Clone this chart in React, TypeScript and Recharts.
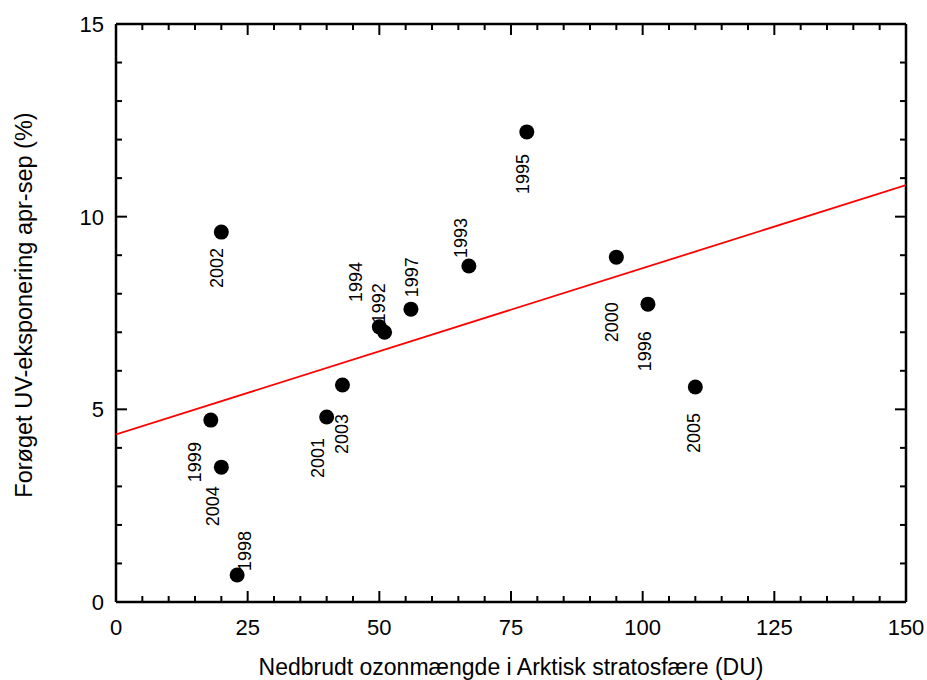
import { ScatterChart, Scatter, XAxis, YAxis } from 'recharts';

const FONT = '"Liberation Sans", Arial, sans-serif';

// år, nedbrudt ozon (DU), forøget UV (%)
const years = ['2002', '1999', '2004', '1998', '2001', '2003', '1994', '1992', '1997', '1993', '1995', '2000', '1996', '2005'];
const ozone = [20, 18, 20, 23, 40, 43, 50, 51, 56, 67, 78, 95, 101, 110];
const uvIncrease = [9.6, 4.72, 3.5, 0.7, 4.8, 5.63, 7.14, 7.0, 7.6, 8.72, 12.2, 8.95, 7.73, 5.58];

// regression line end points
const fitX = [0, 150];
const fitY = [4.35, 10.82];

const xTicks = [0, 5, 10, 15, 20, 25, 30, 35, 40, 45, 50, 55, 60, 65, 70, 75, 80, 85, 90, 95, 100, 105, 110, 115, 120, 125, 130, 135, 140, 145, 150];
const yTicks = [0, 1, 2, 3, 4, 5, 6, 7, 8, 9, 10, 11, 12, 13, 14, 15];

// where each year label sits relative to its dot (px)
const labelOffsets: Record<string, [number, number]> = {
  '2002': [-4, 36],
  '1999': [-16, 42],
  '2004': [-8, 39],
  '1998': [8, -24],
  '2001': [-9, 41],
  '2003': [0, 49],
  '1994': [-23, -45],
  '1992': [-6, -29],
  '1997': [1, -32],
  '1993': [-8, -28],
  '1995': [-4, 42],
  '2000': [-4, 65],
  '1996': [-3, 47],
  '2005': [-1, 46],
};

const points = years.map((year, i) => ({ year, x: ozone[i], y: uvIncrease[i] }));
const fitLine = fitX.map((x, i) => ({ x, y: fitY[i] }));

const MAJOR = 11;
const MINOR = 6;
// tickSize + tickMargin: distance from the axis line to the tick anchor recharts hands us
const GAP = 2;

const BottomTick = ({ x, y, payload }: any) => {
  const major = payload.value % 25 === 0;
  const ay = y - GAP;
  return (
    <g>
      <line x1={x} x2={x} y1={ay} y2={ay - (major ? MAJOR : MINOR)} stroke="#000" strokeWidth={2} />
      {major && (
        <text x={x} y={ay + 33} textAnchor="middle" fontSize={22} fontFamily={FONT} fill="#000">
          {payload.value}
        </text>
      )}
    </g>
  );
};

const TopTick = ({ x, y, payload }: any) => {
  const major = payload.value % 25 === 0;
  const ay = y + GAP;
  return <line x1={x} x2={x} y1={ay} y2={ay + (major ? MAJOR : MINOR)} stroke="#000" strokeWidth={2} />;
};

const LeftTick = ({ x, y, payload }: any) => {
  const major = payload.value % 5 === 0;
  const ax = x + GAP;
  return (
    <g>
      <line x1={ax} x2={ax + (major ? MAJOR : MINOR)} y1={y} y2={y} stroke="#000" strokeWidth={2} />
      {major && (
        <text x={ax - 12} y={y + 8} textAnchor="end" fontSize={22} fontFamily={FONT} fill="#000">
          {payload.value}
        </text>
      )}
    </g>
  );
};

const RightTick = ({ x, y, payload }: any) => {
  const major = payload.value % 5 === 0;
  const ax = x - GAP;
  return <line x1={ax} x2={ax - (major ? MAJOR : MINOR)} y1={y} y2={y} stroke="#000" strokeWidth={2} />;
};

const YearDot = ({ cx, cy, payload }: any) => {
  const [dx, dy] = labelOffsets[payload.year] || [0, 40];
  const tx = cx + dx;
  const ty = cy + dy;
  return (
    <g>
      <circle cx={cx} cy={cy} r={7.5} fill="#000" />
      <text
        x={tx}
        y={ty}
        transform={`rotate(-90 ${tx} ${ty})`}
        textAnchor="middle"
        dominantBaseline="central"
        fontSize={18}
        fontFamily={FONT}
        fill="#000"
      >
        {payload.year}
      </text>
    </g>
  );
};

const NoDot = () => <g />;

const XTitle = ({ viewBox }: any) => (
  <text x={viewBox.x + viewBox.width / 2} y={viewBox.y + 73} textAnchor="middle" fontSize={23} fontFamily={FONT} fill="#000">
    Nedbrudt ozonmængde i Arktisk stratosfære (DU)
  </text>
);

const YTitle = ({ viewBox }: any) => {
  const cx = 32;
  const cy = viewBox.y + viewBox.height / 2 - 8;
  return (
    <text x={cx} y={cy} transform={`rotate(-90 ${cx} ${cy})`} textAnchor="middle" fontSize={23.5} fontFamily={FONT} fill="#000">
      Forøget UV-eksponering apr-sep (%)
    </text>
  );
};

const axisCommon = {
  type: 'number' as const,
  interval: 0 as const,
  tickSize: 1,
  tickMargin: 1,
  tickLine: false,
  axisLine: { stroke: '#000', strokeWidth: 2.5 },
  allowDataOverflow: true,
};

export default function App() {
  return (
    <div style={{ position: 'absolute', left: 0, top: 0, fontFamily: FONT }}>
      <ScatterChart width={927} height={680} margin={{ top: 23, right: 20, bottom: 0, left: 0 }}>
        <XAxis
          {...axisCommon}
          dataKey="x"
          domain={[0, 150]}
          ticks={xTicks}
          height={78}
          tick={<BottomTick />}
          label={<XTitle />}
        />
        <XAxis
          {...axisCommon}
          xAxisId="top"
          dataKey="x"
          orientation="top"
          domain={[0, 150]}
          ticks={xTicks}
          height={1}
          tick={<TopTick />}
        />
        <YAxis
          {...axisCommon}
          dataKey="y"
          domain={[0, 15]}
          ticks={yTicks}
          width={116}
          tick={<LeftTick />}
          label={<YTitle />}
        />
        <YAxis
          {...axisCommon}
          yAxisId="right"
          dataKey="y"
          orientation="right"
          domain={[0, 15]}
          ticks={yTicks}
          width={1}
          tick={<RightTick />}
        />
        <Scatter
          data={fitLine}
          xAxisId="top"
          yAxisId="right"
          line={{ stroke: '#ff0000', strokeWidth: 1.8 }}
          shape={<NoDot />}
          isAnimationActive={false}
        />
        <Scatter data={points} shape={<YearDot />} isAnimationActive={false} />
      </ScatterChart>
    </div>
  );
}
